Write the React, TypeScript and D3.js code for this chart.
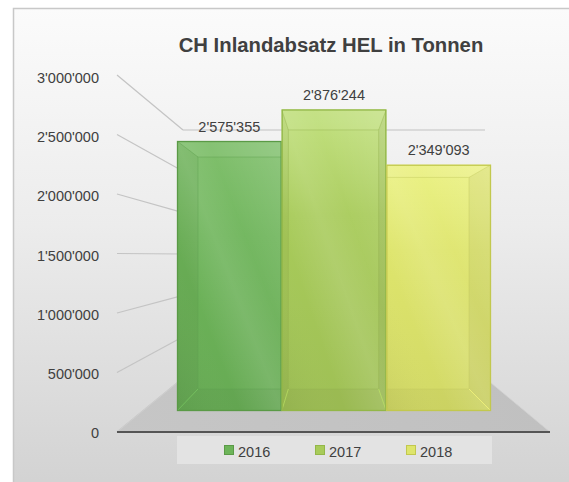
import React from 'react';
import * as d3 from 'd3';

const title = 'CH Inlandabsatz HEL in Tonnen';
const years = ['2016', '2017', '2018'];
const values = [2575355, 2876244, 2349093];
const yTicks = [0, 500000, 1000000, 1500000, 2000000, 2500000, 3000000];
const barColors = ['#6db459', '#a8cb5a', '#dee56c'];
const topColors = ['#79bc64', '#bfdf78', '#eaf17e'];
const edgeColors = ['#5a9a46', '#93b748', '#c2c84e'];

const maxV = 3000000;
const fmt = (v: number) => d3.format(',')(v).replace(/,/g, "'");

const W = 569;
const H = 482;

export default function App() {
  const yLabel = d3.scaleLinear().domain([0, maxV]).range([438, 83]);
  const yGridFront = d3.scaleLinear().domain([0, maxV]).range([432, 75]);
  const yBackWall = d3.scaleLinear().domain([0, maxV]).range([378, 130]);
  const yBarFront = d3.scaleLinear().domain([0, maxV]).range([411, 96.5]);
  const yBarBack = d3.scaleLinear().domain([0, maxV]).range([389, 118.8]);
  const xBarFront = d3.scaleBand<string>().domain(years).range([177, 491]).padding(0);
  const xBarBack = d3.scaleBand<string>().domain(years).range([198, 469]).padding(0);
  const xLegend = d3.scalePoint<string>().domain(years).range([224, 406]);

  const axisX0 = 117, axisX1 = 550;
  const wallX0 = 183, wallX1 = 485;
  const font = "'Liberation Sans', Arial, sans-serif";

  const floor = d3.line()([
    [axisX0, yGridFront(0)],
    [axisX1, yGridFront(0)],
    [wallX1, yBackWall(0)],
    [wallX0, yBackWall(0)],
  ]) + 'Z';

  return (
    <div style={{ position: 'absolute', left: 0, top: 0 }}>
      <svg width={W} height={H} style={{ display: 'block' }}>
        <defs>
          <linearGradient id="bg" x1="0" y1="0" x2="0" y2="1">
            <stop offset="0" stopColor="#fbfbfb" />
            <stop offset="0.45" stopColor="#ececec" />
            <stop offset="1" stopColor="#d2d2d2" />
          </linearGradient>
          <linearGradient id="floorG" x1="0" y1="0" x2="1" y2="0">
            <stop offset="0" stopColor="#c6c6c6" />
            <stop offset="1" stopColor="#c0c0c0" />
          </linearGradient>
          <linearGradient id="sheen" x1="1" y1="0" x2="0" y2="1">
            <stop offset="0" stopColor="#fff" stopOpacity="0.18" />
            <stop offset="0.35" stopColor="#fff" stopOpacity="0.05" />
            <stop offset="0.5" stopColor="#fff" stopOpacity="0.12" />
            <stop offset="0.7" stopColor="#fff" stopOpacity="0.0" />
            <stop offset="1" stopColor="#000" stopOpacity="0.04" />
          </linearGradient>
          {years.map((y, i) => (
            <linearGradient key={y} id={`bar${i}`} x1="0" y1="0" x2="0" y2="1">
              <stop offset="0" stopColor={topColors[i]} />
              <stop offset="0.35" stopColor={barColors[i]} />
              <stop offset="1" stopColor={d3.color(barColors[i])!.darker(0.15).toString()} />
            </linearGradient>
          ))}
          {years.map((y, i) => (
            <clipPath key={y} id={`clip${i}`}>
              <rect
                x={xBarFront(y)!}
                y={yBarFront(values[i])}
                width={xBarFront.bandwidth()}
                height={yBarFront(0) - yBarFront(values[i])}
              />
            </clipPath>
          ))}
        </defs>

        <rect x={13.5} y={8.5} width={W} height={H} fill="url(#bg)" stroke="#c8c8c8" strokeWidth={1.5} />

        {/* side wall gridlines */}
        {yTicks.map((t) => (
          <line
            key={'s' + t}
            x1={axisX0}
            y1={yGridFront(t)}
            x2={wallX0}
            y2={yBackWall(t)}
            stroke="#c4c4c4"
            strokeWidth={1.2}
          />
        ))}
        {/* back wall gridlines */}
        {yTicks.map((t) => (
          <line
            key={'b' + t}
            x1={wallX0}
            y1={yBackWall(t)}
            x2={wallX1}
            y2={yBackWall(t)}
            stroke="#d2d2d2"
            strokeWidth={1.4}
          />
        ))}

        {/* floor */}
        <path d={floor} fill="url(#floorG)" stroke="#d0d0d0" strokeWidth={0.8} />
        <line x1={axisX0} y1={yGridFront(0)} x2={axisX1} y2={yGridFront(0)} stroke="#555" strokeWidth={2} />

        {/* bars */}
        {years.map((y, i) => {
          const v = values[i];
          const xf0 = xBarFront(y)!;
          const xf1 = xf0 + xBarFront.bandwidth();
          const yf0 = yBarFront(v);
          const yf1 = yBarFront(0);
          const xb0 = xBarBack(y)!;
          const xb1 = xb0 + xBarBack.bandwidth();
          const yb0 = yBarBack(v);
          const yb1 = yBarBack(0);
          const inner = d3.color(barColors[i])!.darker(0.35).toString();
          const light = d3.color(barColors[i])!.brighter(0.4).toString();
          const line = d3.line();
          return (
            <g key={y}>
              <rect x={xf0} y={yf0} width={xf1 - xf0} height={yf1 - yf0} fill={`url(#bar${i})`} />
              <g clipPath={`url(#clip${i})`}>
                <path d={line([[xf0, yf0], [xb0, yb0], [xb0, yb1], [xf0, yf1]])! + 'Z'} fill="#000" fillOpacity={0.035} />
                <path d={line([[xf1, yf0], [xb1, yb0], [xb1, yb1], [xf1, yf1]])! + 'Z'} fill="#000" fillOpacity={0.05} />
                <path d={line([[xf0, yf1], [xb0, yb1], [xb1, yb1], [xf1, yf1]])! + 'Z'} fill="#000" fillOpacity={0.03} />
                <path d={line([[xf0, yf0], [xb0, yb0], [xb1, yb0], [xf1, yf0]])! + 'Z'} fill="#fff" fillOpacity={0.06} />
                <rect x={xf0} y={yf0} width={xf1 - xf0} height={yf1 - yf0} fill="url(#sheen)" />
                <rect x={xb0} y={yb0} width={xb1 - xb0} height={yb1 - yb0} fill="none" stroke={inner} strokeOpacity={0.45} strokeWidth={1} />
                <path d={line([[xf0, yf0], [xb0, yb0]])!} stroke={inner} strokeOpacity={0.45} />
                <path d={line([[xf1, yf0], [xb1, yb0]])!} stroke={inner} strokeOpacity={0.45} />
                <path d={line([[xf0, yf1], [xb0, yb1]])!} stroke={light} strokeOpacity={0.6} />
                <path d={line([[xf1, yf1], [xb1, yb1]])!} stroke={light} strokeOpacity={0.6} />
              </g>
              <rect x={xf0 + 0.5} y={yf0 + 0.5} width={xf1 - xf0 - 1} height={yf1 - yf0 - 1} fill="none" stroke={edgeColors[i]} strokeWidth={1.3} />
            </g>
          );
        })}

        {/* data labels */}
        {years.map((y, i) => (
          <text
            key={'l' + y}
            x={xBarFront(y)! + xBarFront.bandwidth() / 2}
            y={yBarFront(values[i]) - 9.5}
            textAnchor="middle"
            fontFamily={font}
            fontSize={14.5}
            fill="#404040"
          >
            {fmt(values[i])}
          </text>
        ))}

        {/* y axis labels */}
        {yTicks.map((t) => (
          <text key={'y' + t} x={99} y={yLabel(t)} textAnchor="end" fontFamily={font} fontSize={14.5} fill="#404040">
            {fmt(t)}
          </text>
        ))}

        {/* title */}
        <text x={331} y={52} textAnchor="middle" fontFamily={font} fontWeight="bold" fontSize={20.3} fill="#404040">
          {title}
        </text>

        {/* legend */}
        <rect x={177} y={436} width={315} height={28} fill="#e3e3e3" />
        {years.map((y, i) => (
          <g key={'lg' + y}>
            <rect x={xLegend(y)! + 0.5} y={445.5} width={9} height={9} fill={barColors[i]} stroke={edgeColors[i]} strokeWidth={1} />
            <text x={xLegend(y)! + 14} y={457} fontFamily={font} fontSize={14.5} fill="#404040">
              {y}
            </text>
          </g>
        ))}
      </svg>
    </div>
  );
}
